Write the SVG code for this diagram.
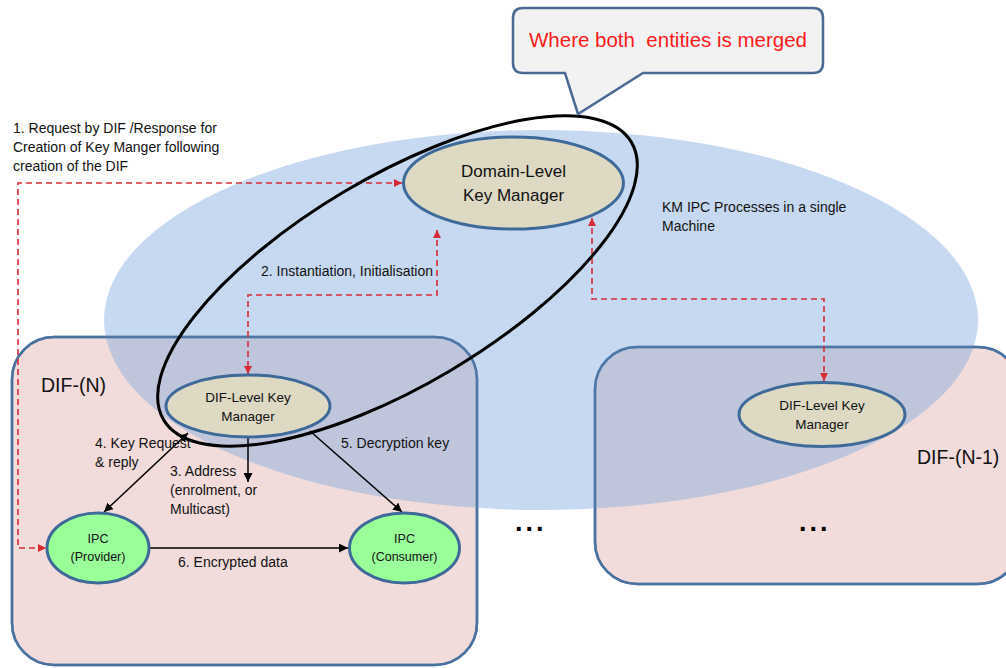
<svg xmlns="http://www.w3.org/2000/svg" width="1006" height="668" viewBox="0 0 1006 668">
  <defs>
    <style>
      text { font-family: "Liberation Sans", Arial, sans-serif; fill: #111111; }
      .lbl { font-size: 14px; }
      .node-txt { font-size: 13.5px; text-anchor: middle; }
      .ipc-txt { font-size: 12.5px; text-anchor: middle; }
      .big-txt { font-size: 17px; text-anchor: middle; }
      .dif-txt { font-size: 19.5px; }
      .dots { font-size: 27px; font-weight: bold; letter-spacing: 3px; fill: #000; }
      .box { fill: #f2dcdb; stroke: #4a72a0; stroke-width: 2.5; }
      .box-edge { fill: none; stroke: #4a72a0; stroke-width: 2.5; opacity: 0.8; }
      .km { fill: #ddd9c3; stroke: #3e6a9a; stroke-width: 3; }
      .ipc { fill: #99ff99; stroke: #3e6a9a; stroke-width: 3; }
      .red { fill: none; stroke: #d62a34; stroke-width: 1.6; stroke-dasharray: 6 4; }
      .blk { fill: none; stroke: #000; stroke-width: 1.5; }
    </style>
    <marker id="ah-red" viewBox="0 0 10 10" refX="10" refY="5" markerWidth="8" markerHeight="8" markerUnits="userSpaceOnUse" orient="auto-start-reverse">
      <path d="M0,0 L10,5 L0,10 z" fill="#d62a34"/>
    </marker>
    <marker id="ah-blk" viewBox="0 0 10 10" refX="10" refY="5" markerWidth="9" markerHeight="9" markerUnits="userSpaceOnUse" orient="auto-start-reverse">
      <path d="M0,0 L10,5 L0,10 z" fill="#000"/>
    </marker>
  </defs>

  <rect width="1006" height="668" fill="#ffffff"/>

  <!-- DIF boxes -->
  <g id="dif-n">
    <rect class="box" x="12" y="337" width="465" height="328" rx="42"/>
  </g>
  <g id="dif-n-1">
    <rect class="box" x="595" y="347" width="425" height="237" rx="42"/>
  </g>

  <!-- machine region, translucent over the DIF boxes -->
  <g id="machine">
    <ellipse cx="541" cy="320" rx="437" ry="190" fill="rgb(131,172,222)" fill-opacity="0.46"/>
  </g>

  <!-- box outlines redrawn on top -->
  <rect class="box-edge" x="12" y="337" width="465" height="328" rx="42"/>
  <rect class="box-edge" x="595" y="347" width="425" height="237" rx="42"/>

  <!-- labels -->
  <text class="dif-txt" x="41" y="392">DIF-(N)</text>
  <text class="dif-txt" x="917" y="464">DIF-(N-1)</text>
  <text class="dots" x="515" y="531">...</text>
  <text class="dots" x="799" y="531">...</text>

  <text class="lbl">
    <tspan x="13" y="133">1. Request by DIF /Response for</tspan>
    <tspan x="13" y="152">Creation of Key Manger following</tspan>
    <tspan x="13" y="171">creation of the DIF</tspan>
  </text>
  <text class="lbl" x="261" y="276">2. Instantiation, Initialisation</text>
  <text class="lbl">
    <tspan x="662" y="212">KM IPC Processes in a single</tspan>
    <tspan x="662" y="231">Machine</tspan>
  </text>
  <text class="lbl">
    <tspan x="95" y="448">4. Key Request</tspan>
    <tspan x="95" y="467">&amp; reply</tspan>
  </text>
  <text class="lbl">
    <tspan x="170" y="476">3. Address</tspan>
    <tspan x="170" y="495">(enrolment, or</tspan>
    <tspan x="170" y="514">Multicast)</tspan>
  </text>
  <text class="lbl" x="341" y="448">5. Decryption key</text>
  <text class="lbl" x="178" y="567">6. Encrypted data</text>

  <!-- connectors -->
  <g id="connectors">
    <polyline class="red" points="402,183 18,183 18,548 46,548" marker-start="url(#ah-red)" marker-end="url(#ah-red)"/>
    <polyline class="red" points="437,230 437,295 248,295 248,374" marker-start="url(#ah-red)" marker-end="url(#ah-red)"/>
    <polyline class="red" points="592,218 592,299 824,299 824,381" marker-start="url(#ah-red)" marker-end="url(#ah-red)"/>
    <line class="blk" x1="188" y1="433" x2="104" y2="512" marker-start="url(#ah-blk)" marker-end="url(#ah-blk)"/>
    <line class="blk" x1="248" y1="437" x2="248" y2="482" marker-end="url(#ah-blk)"/>
    <line class="blk" x1="310" y1="431" x2="402" y2="512" marker-end="url(#ah-blk)"/>
    <line class="blk" x1="149" y1="548" x2="348" y2="548" marker-end="url(#ah-blk)"/>
  </g>

  <!-- key managers -->
  <g id="domain-km">
    <ellipse class="km" cx="513.5" cy="183" rx="110" ry="46"/>
    <text class="big-txt" x="513.5" y="177">Domain-Level</text>
    <text class="big-txt" x="513.5" y="201">Key Manager</text>
  </g>
  <g id="dif-km-n">
    <ellipse class="km" cx="248" cy="406" rx="82" ry="31"/>
    <text class="node-txt" x="248" y="402">DIF-Level Key</text>
    <text class="node-txt" x="248" y="421">Manager</text>
  </g>
  <g id="dif-km-n-1">
    <ellipse class="km" cx="822" cy="414.5" rx="83" ry="32"/>
    <text class="node-txt" x="822" y="410">DIF-Level Key</text>
    <text class="node-txt" x="822" y="429">Manager</text>
  </g>

  <!-- IPC processes -->
  <g id="ipc-provider">
    <ellipse class="ipc" cx="98" cy="548" rx="51" ry="35"/>
    <text class="ipc-txt" x="98" y="543">IPC</text>
    <text class="ipc-txt" x="98" y="561">(Provider)</text>
  </g>
  <g id="ipc-consumer">
    <ellipse class="ipc" cx="404.5" cy="548" rx="55" ry="35"/>
    <text class="ipc-txt" x="404.5" y="543">IPC</text>
    <text class="ipc-txt" x="404.5" y="561">(Consumer)</text>
  </g>

  <!-- merged-entity outline -->
  <g id="merge-ring">
    <ellipse cx="397.5" cy="281" rx="272" ry="104" transform="rotate(-30.7 397.5 281)" fill="none" stroke="#000" stroke-width="3"/>
  </g>

  <!-- callout -->
  <g id="callout">
    <path d="M523,8 H813 Q823,8 823,18 V63 Q823,73 813,73 H643 L578,114 L565,73 H523 Q513,73 513,63 V18 Q513,8 523,8 Z" fill="#f2f2f2" stroke="#4a6a94" stroke-width="2.5"/>
    <text x="668" y="47" font-size="20.5" text-anchor="middle" style="fill:#ff1a1a; white-space:pre">Where both  entities is merged</text>
  </g>
</svg>
